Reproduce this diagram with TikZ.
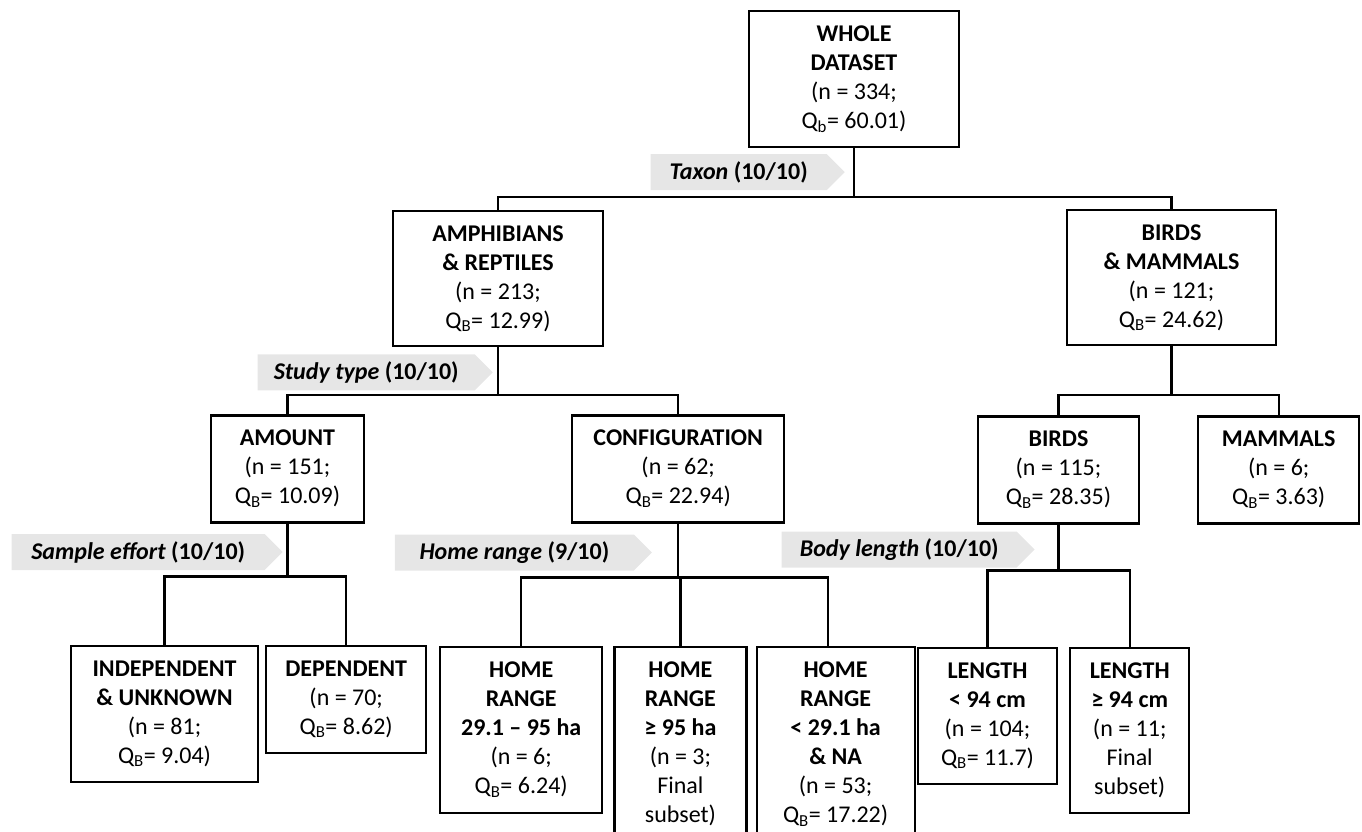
\documentclass[tikz,border=0pt]{standalone}
\usepackage{fontspec}
\setmainfont{Carlito}
\usetikzlibrary{positioning,shapes.symbols}
\definecolor{tagfill}{RGB}{230,230,230}

\begin{document}
\begin{tikzpicture}[x=1pt,y=-1pt,
box/.style={draw, line width=2.2pt, align=center, inner sep=2pt, font=\fontsize{24}{29}\selectfont},
tag/.style={signal, signal to=east, signal pointer angle=90, fill=tagfill, minimum height=36pt, inner sep=2pt, font=\fontsize{24}{29}\selectfont\bfseries},
link/.style={line width=2.2pt}]
\useasboundingbox (0,0) rectangle (1362,831);
\clip (0,0) rectangle (1362,831);
\node[box, minimum width=210pt, minimum height=136pt] (whole) at (854,79) {\textbf{WHOLE}\\\textbf{DATASET}\\(n = 334;\\Q\textsubscript{b}= 60.01)};
\node[box, minimum width=210pt, minimum height=135pt, below=62pt of whole, xshift=-356pt] (amph) {\textbf{AMPHIBIANS}\\\textbf{\& REPTILES}\\(n = 213;\\Q\textsubscript{B}= 12.99)};
\node[box, minimum width=209pt, minimum height=135pt, below=61pt of whole, xshift=317.5pt] (bm) {\textbf{BIRDS}\\\textbf{\& MAMMALS}\\(n = 121;\\Q\textsubscript{B}= 24.62)};
\node[box, minimum width=153pt, minimum height=107pt, below=67pt of amph, xshift=-210.5pt] (amount) {\textbf{AMOUNT}\\(n = 151;\\Q\textsubscript{B}= 10.09)};
\node[box, minimum width=212pt, minimum height=107pt, right=206pt of amount] (config) {\textbf{CONFIGURATION}\\(n = 62;\\Q\textsubscript{B}= 22.94)};
\node[box, minimum width=161pt, minimum height=107pt, below=69pt of bm, xshift=-113pt] (birds) {\textbf{BIRDS}\\(n = 115;\\Q\textsubscript{B}= 28.35)};
\node[box, minimum width=161pt, minimum height=107pt, right=57pt of birds] (mammals) {\textbf{MAMMALS}\\(n = 6;\\Q\textsubscript{B}= 3.63)};
\node[box, minimum width=187pt, minimum height=136pt, below=121pt of amount, xshift=-123pt] (indep) {\textbf{INDEPENDENT}\\\textbf{\& UNKNOWN}\\(n = 81;\\Q\textsubscript{B}= 9.04)};
\node[box, minimum width=160pt, minimum height=107pt, right=6pt of indep.north east, anchor=north west] (dep) {\textbf{DEPENDENT}\\(n = 70;\\Q\textsubscript{B}= 8.62)};
\node[box, minimum width=162pt, minimum height=166pt, below=122pt of config, xshift=-157pt] (home1) {\textbf{HOME}\\\textbf{RANGE}\\\textbf{29.1 – 95 ha}\\(n = 6;\\Q\textsubscript{B}= 6.24)};
\node[box, minimum width=132pt, minimum height=195pt, right=10pt of home1.north east, anchor=north west] (home2) {\textbf{HOME}\\\textbf{RANGE}\\\textbf{≥ 95 ha}\\(n = 3;\\Final\\subset)};
\node[box, minimum width=158pt, minimum height=195pt, right=8pt of home2.north east, anchor=north west] (home3) {\textbf{HOME}\\\textbf{RANGE}\\\textbf{< 29.1 ha}\\\textbf{\& NA}\\(n = 53;\\Q\textsubscript{B}= 17.22)};
\node[box, minimum width=139pt, minimum height=136pt, below=122pt of birds, xshift=-71pt] (len1) {\textbf{LENGTH}\\\textbf{< 94 cm}\\(n = 104;\\Q\textsubscript{B}= 11.7)};
\node[box, minimum width=119pt, minimum height=165pt, right=11pt of len1.north east, anchor=north west] (len2) {\textbf{LENGTH}\\\textbf{≥ 94 cm}\\(n = 11;\\Final\\subset)};

\node[tag, minimum width=194pt, anchor=east] (taxon) at ([xshift=-9pt, yshift=-24pt]whole.south) {\textit{Taxon} (10/10)};
\node[tag, minimum width=235pt, anchor=east] (study) at ([xshift=-5pt, yshift=-25pt]amph.south) {\textit{Study type} (10/10)};
\node[tag, minimum width=271pt, anchor=east] (effort) at ([xshift=-4.5pt, yshift=-28.5pt]amount.south) {\textit{Sample effort} (10/10)};
\node[tag, minimum width=257pt, anchor=east] (range) at ([xshift=-26pt, yshift=-29pt]config.south) {\textit{Home range} (9/10)};
\node[tag, minimum width=253pt, anchor=east] (body) at ([xshift=-23.5pt, yshift=-25pt]birds.south) {\textit{Body length} (10/10)};

\draw[link] (whole.south) -- ++(0,49) -| (amph.north);
\draw[link] (whole.south) -- ++(0,49) -| (bm.north);
\draw[link] (amph.south) -- ++(0,48) -| (amount.north);
\draw[link] (amph.south) -- ++(0,48) -| (config.north);
\draw[link] (bm.south) -- ++(0,49) -| (birds.north);
\draw[link] (bm.south) -- ++(0,49) -| (mammals.north);
\draw[link] (amount.south) -- ++(0,53) -| (indep.north);
\draw[link] (amount.south) -- ++(0,53) -| (dep.north);
\draw[link] (config.south) -- ++(0,54) -| (home1.north);
\draw[link] (config.south) -- ++(0,54) -| (home2.north);
\draw[link] (config.south) -- ++(0,54) -| ([xshift=-8pt]home3.north);
\draw[link] (birds.south) -- ++(0,46) -| (len1.north);
\draw[link] (birds.south) -- ++(0,46) -| (len2.north);
\end{tikzpicture}
\end{document}
